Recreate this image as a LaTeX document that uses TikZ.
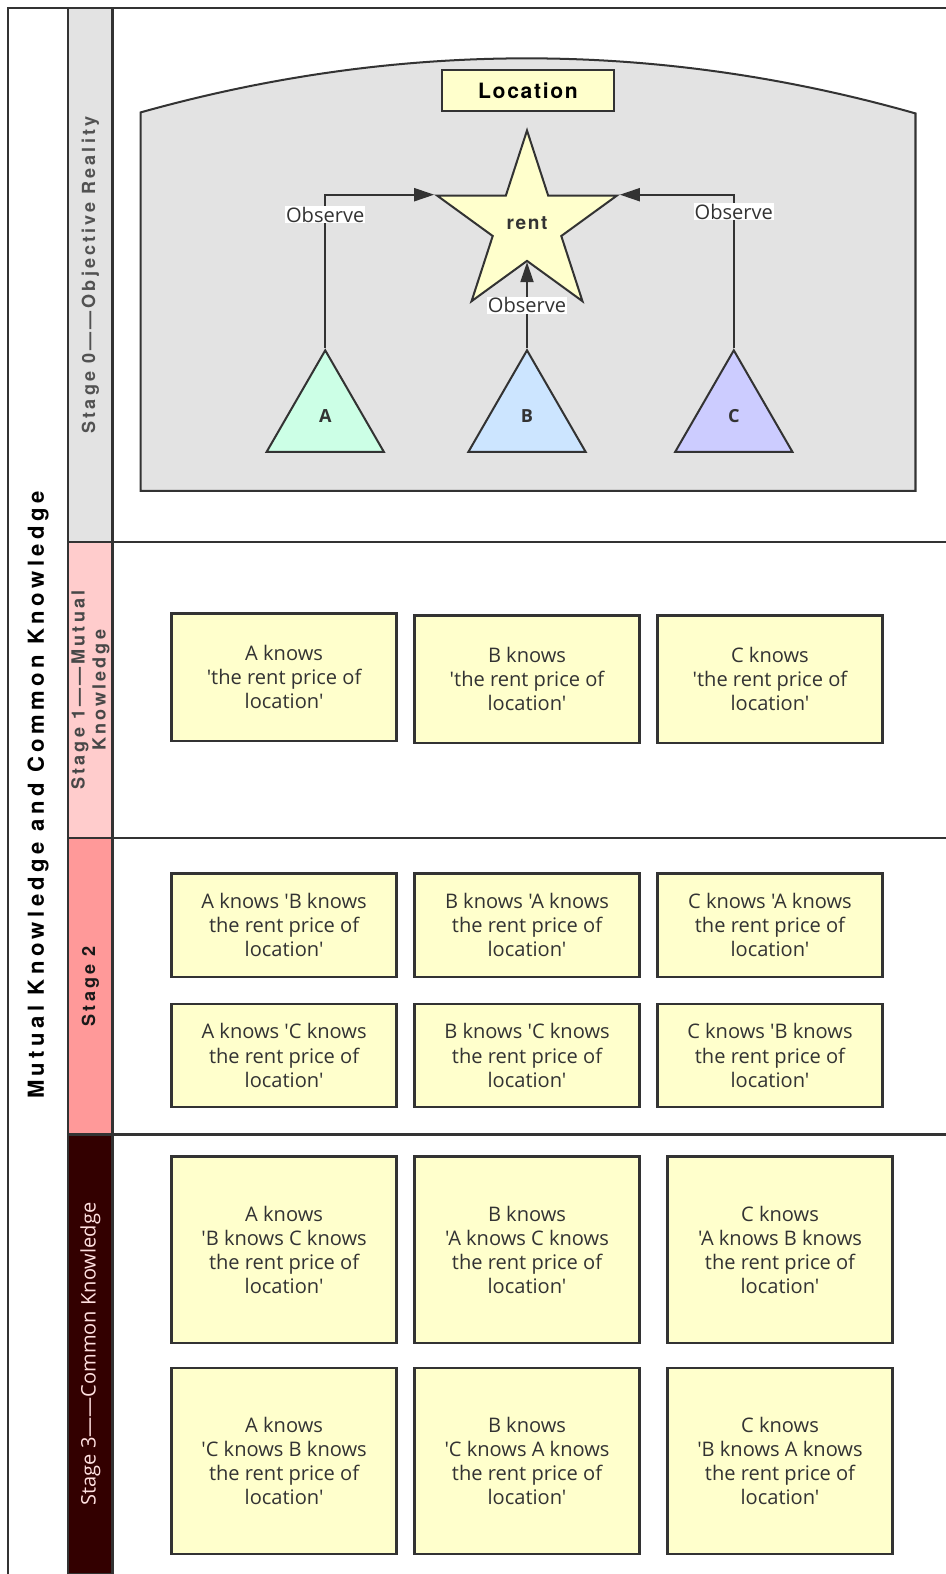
\documentclass[tikz,border=0pt]{standalone}
\usepackage{fontspec}
\setmainfont[Ligatures=TeXOff]{Open Sans}
\newfontfamily\headfont[LetterSpace=20]{TeX Gyre Heros}
\newfontfamily\stagefont[LetterSpace=17]{TeX Gyre Heros}
\newfontfamily\heavyfont[LetterSpace=8]{TeX Gyre Heros}
\usetikzlibrary{shapes.geometric,arrows.meta}

\definecolor{ink}{HTML}{333333}
\definecolor{noteyellow}{HTML}{FFFFCC}
\definecolor{realitygray}{HTML}{E3E3E3}
\definecolor{stageone}{HTML}{FFCCCC}
\definecolor{stagetwo}{HTML}{FF9999}
\definecolor{stagethree}{HTML}{330000}
\definecolor{agentA}{HTML}{CCFFE6}
\definecolor{agentB}{HTML}{CCE5FF}
\definecolor{agentC}{HTML}{CCCCFF}

\newcommand{\notefont}{\fontsize{20}{24}\selectfont}

\tikzset{
  frame/.style={draw=ink, line width=2.4pt},
  band/.style={draw=ink, line width=2.4pt, rotate=90, minimum height=44pt,
    inner sep=0pt, align=center},
  note/.style={draw=ink, line width=2.4pt, fill=noteyellow, text=ink,
    align=center, font=\notefont, inner sep=0pt, minimum width=224pt},
  agent/.style={regular polygon, regular polygon sides=3, minimum size=135pt,
    inner sep=0pt, draw=ink, line width=2pt, text=ink,
    font=\fontsize{18}{20}\selectfont\bfseries},
  flow/.style={draw=ink, line width=2pt, -{Triangle[length=20pt,width=13pt]}},
  tag/.style={fill=white, inner sep=1pt, text=ink, font=\fontsize{20}{22}\selectfont}
}

\begin{document}
\begin{tikzpicture}[x=1pt,y=-1pt]
\useasboundingbox (0,0) rectangle (942,1568);

% outer frame and column rules
\draw[frame] (942,8) -- (8,8) -- (8,1568);
\draw[frame] (68,8) -- (68,1568);
\draw[frame] (112,8) -- (112,1568);

% overall title
\node[rotate=90, text=black, font=\headfont\fontsize{22}{24}\selectfont\bfseries]
  (title) at (38,792) {Mutual Knowledge and Common Knowledge};

% stage bands
\node[band, fill=realitygray, minimum width=532pt, text=ink!85,
  font=\stagefont\fontsize{18}{20}\selectfont\bfseries]
  (s0) at (90,274) {Stage 0——Objective Reality};
\node[band, fill=stageone, minimum width=295pt, text=ink!90,
  font=\stagefont\fontsize{18}{21}\selectfont\bfseries]
  (s1) at (90,687.5) {Stage 1——Mutual\\Knowledge};
\node[band, fill=stagetwo, minimum width=295pt, text=black!90,
  font=\stagefont\fontsize{18}{20}\selectfont\bfseries]
  (s2) at (90,982.5) {Stage 2};
\node[band, fill=stagethree, minimum width=438pt, text=stageone!60!white,
  font=\fontsize{20}{22}\selectfont]
  (s3) at (90,1349) {Stage 3——Common Knowledge};

% row separators
\draw[frame] (68,540) -- (942,540);
\draw[frame] (68,835) -- (942,835);
\draw[frame] (68,1130) -- (942,1130);

% stage 0: the shared reality
\draw[draw=ink, line width=2pt, fill=realitygray]
  (140,489) -- (140,112) .. controls (397,40) and (655,40) .. (912,113)
  -- (912,489) -- cycle;
\node[draw=ink, line width=2pt, fill=noteyellow, minimum width=172pt,
  minimum height=41pt, inner sep=0pt,
  font=\heavyfont\fontsize{21}{22}\selectfont\bfseries]
  (loc) at (526,90.5) {Location};
\node[star, star points=5, star point ratio=2.618, minimum size=188pt,
  inner sep=0pt, draw=ink, line width=2pt, fill=noteyellow, text=ink,
  font=\heavyfont\fontsize{19}{20}\selectfont\bfseries]
  (rent) at (525,224) {\raisebox{4pt}{rent}};

\node[agent, fill=agentA] (A) at (324,416.5) {\raisebox{4pt}{A}};
\node[agent, fill=agentB] (B) at (525,416.5) {\raisebox{4pt}{B}};
\node[agent, fill=agentC] (C) at (731,416.5) {\raisebox{4pt}{C}};

\draw[flow] (A.corner 1) |- node[tag, pos=0.435] {Observe} (rent.outer point 2);
\draw[flow] (C.corner 1) |- node[tag, pos=0.445] {Observe} (rent.outer point 5);
\draw[flow] (B.corner 1) -- node[tag, pos=0.5] {Observe} (rent.inner point 3);

% stage 1: mutual knowledge
\node[note, minimum height=127pt] (k1a) at (283,674.5) {A knows\\'the rent price of\\location'};
\node[note, minimum height=127pt] (k1b) at (525,676.5) {B knows\\'the rent price of\\location'};
\node[note, minimum height=127pt] (k1c) at (767,676.5) {C knows\\'the rent price of\\location'};

% stage 2
\node[note, minimum height=103pt] (k2ab) at (283,921.5) {A knows 'B knows\\the rent price of\\location'};
\node[note, minimum height=103pt] (k2ba) at (525,921.5) {B knows 'A knows\\the rent price of\\location'};
\node[note, minimum height=103pt] (k2ca) at (767,921.5) {C knows 'A knows\\the rent price of\\location'};
\node[note, minimum height=103pt] (k2ac) at (283,1051.5) {A knows 'C knows\\the rent price of\\location'};
\node[note, minimum height=103pt] (k2bc) at (525,1051.5) {B knows 'C knows\\the rent price of\\location'};
\node[note, minimum height=103pt] (k2cb) at (767,1051.5) {C knows 'B knows\\the rent price of\\location'};

% stage 3: common knowledge
\node[note, minimum height=186pt] (k3abc) at (283,1245) {A knows\\'B knows C knows\\the rent price of\\location'};
\node[note, minimum height=186pt] (k3bac) at (525,1245) {B knows\\'A knows C knows\\the rent price of\\location'};
\node[note, minimum height=186pt] (k3cab) at (777,1245) {C knows\\'A knows B knows\\the rent price of\\location'};
\node[note, minimum height=185pt] (k3acb) at (283,1455.5) {A knows\\'C knows B knows\\the rent price of\\location'};
\node[note, minimum height=185pt] (k3bca) at (525,1455.5) {B knows\\'C knows A knows\\the rent price of\\location'};
\node[note, minimum height=185pt] (k3cba) at (777,1455.5) {C knows\\'B knows A knows\\the rent price of\\location'};
\end{tikzpicture}
\end{document}
